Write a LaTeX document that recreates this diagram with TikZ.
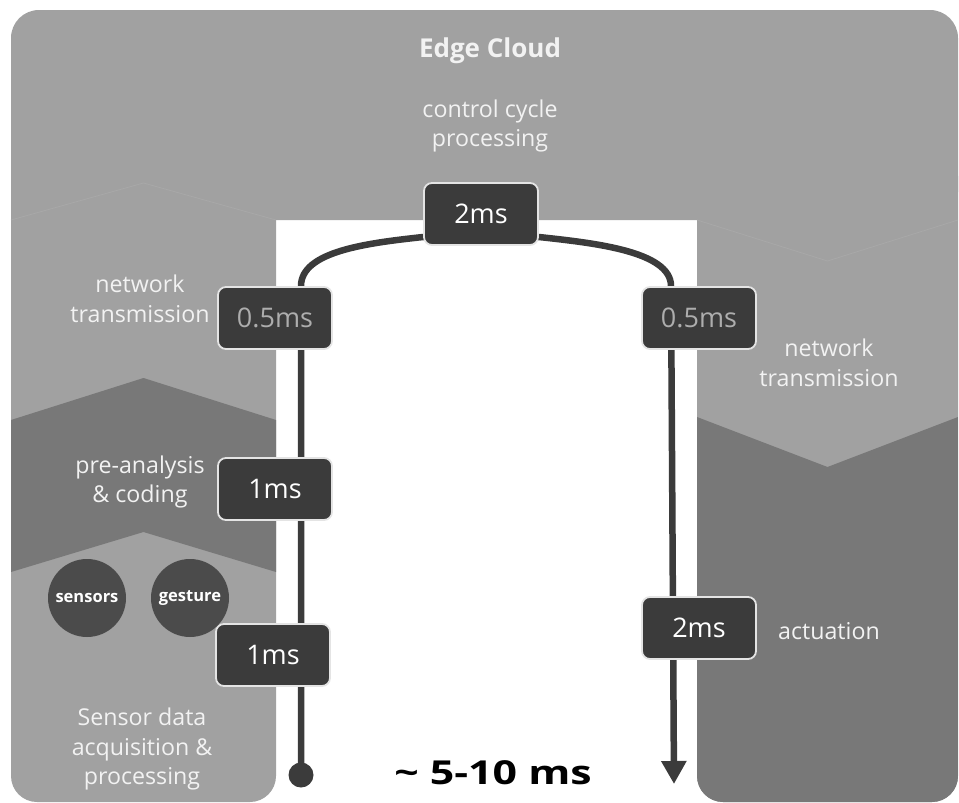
\documentclass[tikz,border=0pt]{standalone}
\usepackage{fontspec}
\setmainfont{Open Sans}
\usetikzlibrary{arrows.meta,calc}
\definecolor{lightg}{HTML}{A1A1A1}
\definecolor{darkg}{HTML}{787878}
\definecolor{boxg}{HTML}{3B3B3B}
\definecolor{circg}{HTML}{4B4B4B}
\definecolor{faint}{HTML}{A8A8A8}
\definecolor{labelc}{HTML}{F2F2F2}
\definecolor{dimtext}{HTML}{ADADAD}
\definecolor{boxedge}{HTML}{E4E4E4}
\pgfdeclarelayer{bg}
\pgfdeclarelayer{mid}
\pgfsetlayers{bg,mid,main}
\begin{document}
\begin{tikzpicture}[x=1pt,y=-1pt,
  timebox/.style={rectangle, rounded corners=8, fill=boxg, draw=boxedge, line width=1.8, minimum width=114, minimum height=62, inner sep=0, text=white, font=\fontsize{27}{30}\selectfont},
  lbl/.style={text=labelc, align=center, font=\fontsize{23.2}{29.5}\selectfont},
  circ/.style={circle, fill=circg, minimum size=78, inner sep=0, text=white, font=\bfseries\fontsize{16.5}{18}\selectfont},
  conn/.style={draw=boxg, line width=6.5},
  startdot/.style={circle, fill=boxg, minimum size=25, inner sep=0}
]
\useasboundingbox (0,0) rectangle (959,803);
\begin{pgfonlayer}{bg}
  \fill[lightg, rounded corners=28] (11,10) rectangle (958,220);
  \fill[lightg, rounded corners=26] (11,150) rectangle (276,802);
  \fill[lightg, rounded corners=26] (697,150) rectangle (958,802);
  \fill[darkg] (11,420) -- (143.5,378) -- (276,420) -- (276,572) -- (143.5,532) -- (11,572) -- cycle;
  \begin{scope}
    \clip[rounded corners=26] (697,150) rectangle (958,802);
    \fill[darkg] (697,417) -- (827.5,467) -- (958,417) -- (958,810) -- (697,810) -- cycle;
  \end{scope}
  \draw[faint, line width=0.8] (11,220) -- (143.5,183) -- (276,220);
  \draw[faint, line width=0.8] (697,220) -- (827.5,261) -- (958,220);
\end{pgfonlayer}

\node[timebox] (t2) at (481,214) {\raisebox{-4pt}{2ms}};
\node[timebox, text=dimtext] (nl) at (275,318) {\raisebox{-4pt}{0.5ms}};
\node[timebox, text=dimtext] (nr) at (699,318) {\raisebox{-4pt}{0.5ms}};
\node[timebox] (pa) at (275,489) {\raisebox{-4pt}{1ms}};
\node[timebox] (sd) at (273,655) {\raisebox{-4pt}{1ms}};
\node[timebox] (ac) at (699,628) {\raisebox{-4pt}{2ms}};
\node[startdot] (start) at (301,775) {};
\coordinate (end) at (674,784);

\begin{pgfonlayer}{mid}
  \draw[conn, -{Triangle[length=23pt,width=24pt]}] (start.center) -- ([xshift=26]nl.north)
    .. controls +(0,-35) and +(-55,6) .. ([yshift=-23]t2.west) -- ([yshift=-23]t2.east)
    .. controls +(55,6) and +(0,-35) .. ([xshift=-28]nr.north) -- (end);
\end{pgfonlayer}

\node[lbl, font=\bfseries\fontsize{26}{30}\selectfont] (title) at (490,51) {Edge Cloud};
\node[lbl] (ccp) at (490,126) {control cycle\\processing};
\node[lbl] (ntl) at (140,299) {network\\transmission};
\node[lbl] (ntr) at (829,363) {network\\transmission};
\node[lbl] (pre) at (140,482) {pre-analysis\\\& coding};
\node[lbl] (sda) at (142,749) {Sensor data\\acquisition \&\\processing};
\node[lbl] (act) at (829,631) {actuation};
\node[circ] (sen) at (87,598) {sensors};
\node[circ] (ges) at (190,598) {gesture};
\node[font=\bfseries\fontsize{33}{38}\selectfont, text=black] (total) at (493,773) {\scalebox{1.3}[1]{\textasciitilde\ 5-10 ms}};
\end{tikzpicture}
\end{document}
